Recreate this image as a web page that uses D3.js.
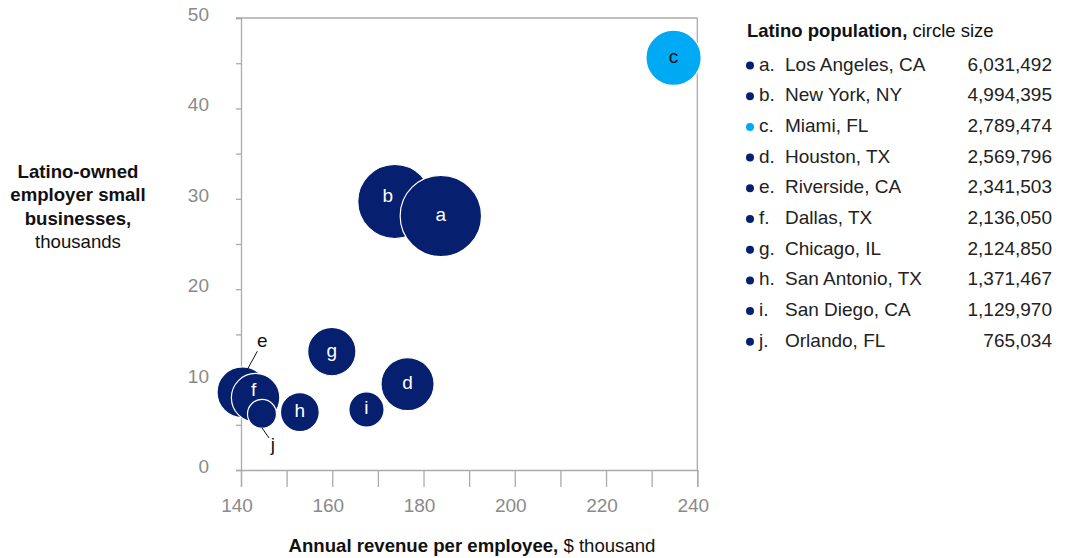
<!DOCTYPE html>
<html>
<head>
<meta charset="utf-8">
<script src="https://cdn.jsdelivr.net/npm/d3@7"></script>
<style>
  html, body { margin: 0; padding: 0; background: #fff; }
  svg { display: block; font-family: "Liberation Sans", Arial, sans-serif; }
</style>
</head>
<body>
<svg id="chart" width="1065" height="558"></svg>
<script>
// Metro areas: letter key, name, Latino population
const letters = ["a", "b", "c", "d", "e", "f", "g", "h", "i", "j"];
const cities = ["Los Angeles, CA", "New York, NY", "Miami, FL", "Houston, TX", "Riverside, CA",
                "Dallas, TX", "Chicago, IL", "San Antonio, TX", "San Diego, CA", "Orlando, FL"];
const population = [6031492, 4994395, 2789474, 2569796, 2341503, 2136050, 2124850, 1371467, 1129970, 765034];
// Annual revenue per employee ($ thousand) and Latino-owned employer small businesses (thousands)
const revenue = [183.8, 173.7, 234.8, 176.5, 140.3, 143.2, 159.9, 152.9, 167.5, 144.6];
const businesses = [28.1, 29.7, 45.6, 9.5, 8.6, 8.0, 13.1, 6.4, 6.7, 6.2];
const highlighted = ["c"];

const xTicks = [140, 160, 180, 200, 220, 240];
const yTicks = [0, 10, 20, 30, 40, 50];

const NAVY = "#06206F";
const CYAN = "#00A9F4";
const AXIS = "#ABABAB";
const TICKTXT = "#8A8A8A";
const TXT = "#222";

const svg = d3.select("#chart");

const x = d3.scaleLinear().domain([140, 240]).range([241, 697.3]);
const y = d3.scaleLinear().domain([0, 50]).range([470, 18]);
const r = d3.scaleSqrt().domain([0, d3.max(population)]).range([0, 40.7]);

const rows = letters.map((k, i) => ({
  key: k, city: cities[i], pop: population[i], rev: revenue[i], biz: businesses[i],
  hi: highlighted.includes(k)
}));

// Frame: top and right edges
svg.append("line").attr("x1", x.range()[0] - 5).attr("x2", x.range()[1])
  .attr("y1", y(50)).attr("y2", y(50)).attr("stroke", AXIS).attr("stroke-width", 1.3);
svg.append("line").attr("x1", x.range()[1]).attr("x2", x.range()[1])
  .attr("y1", y(50)).attr("y2", y(0)).attr("stroke", AXIS).attr("stroke-width", 1.3);

// Y axis: minor ticks every 5, labels every 10
const yAxis = svg.append("g").attr("transform", `translate(${x.range()[0]},0)`)
  .call(d3.axisLeft(y).tickValues(d3.range(0, 51, 5)).tickSize(5).tickFormat(""));
yAxis.select(".domain").attr("stroke", AXIS).attr("stroke-width", 1.3);
yAxis.selectAll(".tick line").attr("stroke", AXIS).attr("stroke-width", 1.3);
svg.append("g").selectAll("text").data(yTicks).join("text")
  .attr("x", 209).attr("y", d => y(d) - 2)
  .attr("text-anchor", "end").attr("dominant-baseline", "middle")
  .attr("font-size", 19).attr("fill", TICKTXT).text(d => d);

// X axis: ticks every 10, labels every 20
const xAxis = svg.append("g").attr("transform", `translate(0,${y(0)})`)
  .call(d3.axisBottom(x).tickValues(d3.range(140, 241, 10)).tickSize(17).tickFormat(""));
xAxis.select(".domain").attr("stroke", AXIS).attr("stroke-width", 1.3);
xAxis.selectAll(".tick line").attr("stroke", AXIS).attr("stroke-width", 1.3);
svg.append("g").selectAll("text").data(xTicks).join("text")
  .attr("x", d => x(d) - 4).attr("y", 507)
  .attr("text-anchor", "middle").attr("dominant-baseline", "middle")
  .attr("font-size", 19).attr("fill", TICKTXT).text(d => d);

// Bubbles, drawn left to right so overlaps stack in that order
const ordered = rows.slice().sort((a, b) => a.rev - b.rev);
svg.append("g").selectAll("circle").data(ordered).join("circle")
  .attr("cx", d => x(d.rev)).attr("cy", d => y(d.biz)).attr("r", d => r(d.pop))
  .attr("fill", d => d.hi ? CYAN : NAVY)
  .attr("stroke", "#fff").attr("stroke-width", 1.2);

// In-bubble letters (e and j are called out beside their bubbles)
const callouts = { e: { dx: 20, dy: -50, lx1: 15, ly1: -41, lx2: 4, ly2: -21 },
                   j: { dx: 11, dy: 32, lx1: 7, ly1: 24, lx2: 0, ly2: 14 } };
const labelNudge = { b: [-7, -5], f: [-2, -7] };
svg.append("g").selectAll("text").data(rows.filter(d => !callouts[d.key])).join("text")
  .attr("x", d => x(d.rev) + (labelNudge[d.key] ? labelNudge[d.key][0] : 0))
  .attr("y", d => y(d.biz) + (labelNudge[d.key] ? labelNudge[d.key][1] : 0))
  .attr("text-anchor", "middle").attr("dominant-baseline", "middle")
  .attr("font-size", 19).attr("fill", d => d.hi ? "#111" : "#fff").text(d => d.key);

const co = svg.append("g");
rows.filter(d => callouts[d.key]).forEach(d => {
  const c = callouts[d.key], cx = x(d.rev), cy = y(d.biz);
  co.append("line").attr("x1", cx + c.lx1).attr("y1", cy + c.ly1)
    .attr("x2", cx + c.lx2).attr("y2", cy + c.ly2)
    .attr("stroke", "#111").attr("stroke-width", 1);
  co.append("text").attr("x", cx + c.dx).attr("y", cy + c.dy)
    .attr("text-anchor", "middle").attr("dominant-baseline", "middle")
    .attr("font-size", 19).attr("fill", "#111").text(d.key);
});

// Axis titles
const yTitle = svg.append("text").attr("text-anchor", "middle").attr("font-size", 18.6).attr("fill", "#111");
[["Latino-owned", 700], ["employer small", 700], ["businesses,", 700], ["thousands", 400]].forEach((l, i) => {
  yTitle.append("tspan").attr("x", 78).attr("y", 178 + i * 23.4).attr("font-weight", l[1]).text(l[0]);
});
const xTitle = svg.append("text").attr("x", 472).attr("y", 552).attr("text-anchor", "middle")
  .attr("font-size", 18.6).attr("fill", "#111");
xTitle.append("tspan").attr("font-weight", 700).text("Annual revenue per employee,");
xTitle.append("tspan").text(" $ thousand");

// Legend
const lg = svg.append("g");
const lt = lg.append("text").attr("x", 747).attr("y", 37).attr("font-size", 18.5).attr("fill", "#111");
lt.append("tspan").attr("font-weight", 700).text("Latino population,");
lt.append("tspan").text(" circle size");
const fmt = d3.format(",");
const item = lg.selectAll("g.item").data(rows).join("g").attr("class", "item")
  .attr("transform", (d, i) => `translate(0,${65.5 + i * 30.7})`);
item.append("circle").attr("cx", 750).attr("cy", 0).attr("r", 4).attr("fill", d => d.hi ? CYAN : NAVY);
item.append("text").attr("x", 759).attr("y", 0).attr("dominant-baseline", "middle")
  .attr("font-size", 19).attr("fill", TXT).text(d => d.key + ".");
item.append("text").attr("x", 785).attr("y", 0).attr("dominant-baseline", "middle")
  .attr("font-size", 19).attr("fill", TXT).text(d => d.city);
item.append("text").attr("x", 1052).attr("y", 0).attr("dominant-baseline", "middle")
  .attr("text-anchor", "end").attr("font-size", 19).attr("fill", TXT).text(d => fmt(d.pop));
</script>
</body>
</html>
